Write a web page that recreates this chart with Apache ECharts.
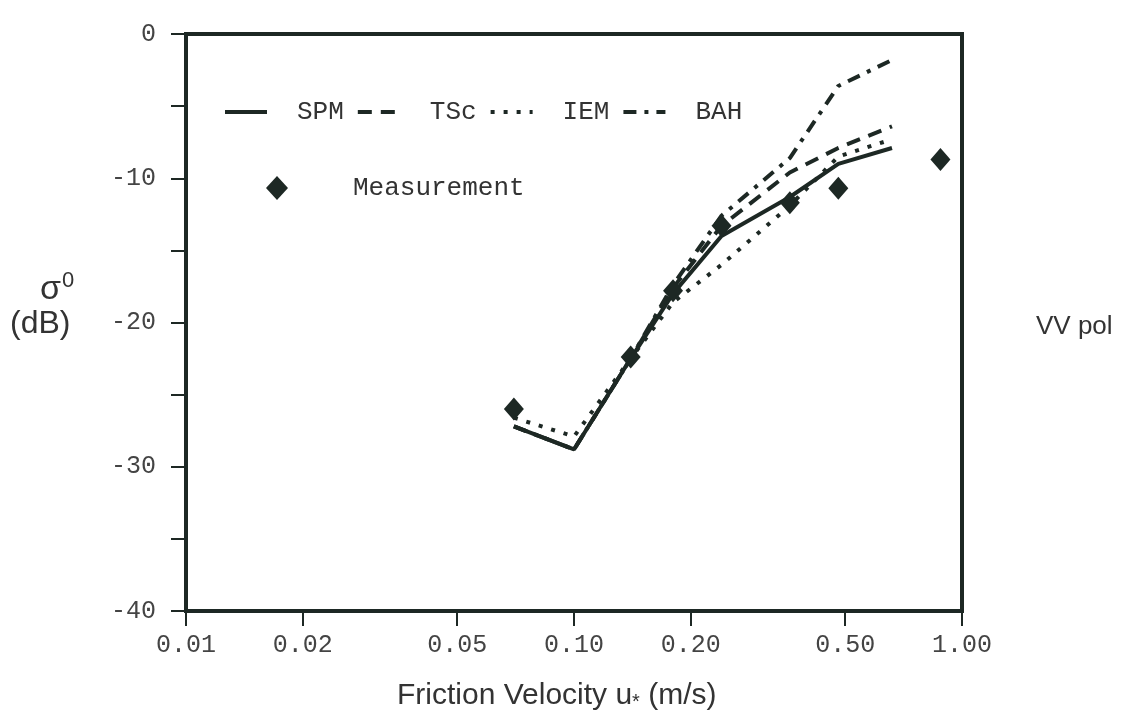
<!DOCTYPE html>
<html>
<head>
<meta charset="utf-8">
<style>
  html, body { margin: 0; padding: 0; background: #ffffff; }
  #chart { width: 1134px; height: 724px; }
</style>
<script src="https://cdn.jsdelivr.net/npm/echarts@6/dist/echarts.min.js"></script>
</head>
<body>
<div id="chart"></div>
<script>
// ---- data ----
const xModel = [0.07, 0.10, 0.14, 0.18, 0.24, 0.36, 0.48, 0.66];
const spm    = [-27.2, -28.8, -22.5, -18.0, -14.0, -11.3, -9.0, -7.9];
const tsc    = [-27.2, -28.8, -22.5, -17.6, -13.3, -9.6, -7.9, -6.4];
const iem    = [-26.6, -27.9, -22.5, -18.6, -16.0, -11.9, -8.5, -7.3];
const bah    = [-27.2, -28.8, -22.5, -17.4, -12.6, -8.6, -3.6, -1.8];
const xMeas  = [0.07, 0.14, 0.18, 0.24, 0.36, 0.48, 0.88];
const meas   = [-26.0, -22.4, -17.8, -13.3, -11.7, -10.7, -8.7];
const xTicks = [0.01, 0.02, 0.05, 0.10, 0.20, 0.50, 1.00];
const yMin = -40, yMax = 0, yStep = 10;

const ink = '#1d2824';
const monoFont = '"Liberation Mono", "DejaVu Sans Mono", monospace';
const sansFont = '"Liberation Sans", Arial, sans-serif';

function pairs(xs, ys) { return xs.map((x, i) => [x, ys[i]]); }

const chart = echarts.init(document.getElementById('chart'), null, { renderer: 'canvas' });

const lineSeries = (name, ys, type) => ({
  name: name,
  type: 'line',
  data: pairs(xModel, ys),
  showSymbol: false,
  symbol: 'none',
  lineStyle: { color: ink, width: 4, type: type },
  itemStyle: { color: ink },
  z: 3
});

chart.setOption({
  animation: false,
  backgroundColor: '#ffffff',
  grid: {
    left: 186, right: 172, top: 34, bottom: 113,
    show: true, borderColor: ink, borderWidth: 4, backgroundColor: 'transparent'
  },
  legend: [
    {
      data: ['SPM', 'TSc', 'IEM', 'BAH'],
      left: 223, top: 99, padding: 0,
      itemWidth: 42, itemHeight: 14, itemGap: 12,
      itemStyle: { opacity: 0 },
      lineStyle: { width: 4, color: ink },
      textStyle: { fontFamily: monoFont, fontSize: 26, color: '#333', padding: [0, 0, 0, 25] },
      selectedMode: false
    },
    {
      data: ['Measurement'],
      left: 266, top: 175, padding: 0,
      itemWidth: 22, itemHeight: 24,
      textStyle: { fontFamily: monoFont, fontSize: 26, color: '#333', padding: [0, 0, 0, 60] },
      selectedMode: false
    }
  ],
  xAxis: {
    type: 'log', logBase: 10, min: 0.01, max: 1,
    axisLine: { show: true, onZero: false, lineStyle: { color: ink, width: 4 } },
    axisTick: { show: true, inside: false, length: 15, lineStyle: { color: ink, width: 2 }, customValues: xTicks },
    axisLabel: {
      customValues: xTicks,
      formatter: v => Number(v).toFixed(2),
      fontFamily: monoFont, fontSize: 25, color: '#444', margin: 22
    },
    splitLine: { show: false },
    minorTick: { show: false }
  },
  yAxis: {
    type: 'value', min: yMin, max: yMax, interval: yStep,
    axisLine: { show: true, onZero: false, lineStyle: { color: ink, width: 4 } },
    axisTick: { show: true, inside: false, length: 15, lineStyle: { color: ink, width: 2 } },
    minorTick: { show: true, splitNumber: 2, length: 15, lineStyle: { color: ink, width: 2 } },
    axisLabel: { fontFamily: monoFont, fontSize: 25, color: '#444', margin: 30 },
    splitLine: { show: false }
  },
  series: [
    lineSeries('SPM', spm, 'solid'),
    lineSeries('TSc', tsc, [14, 9]),
    lineSeries('IEM', iem, [4, 9]),
    lineSeries('BAH', bah, [13, 8, 4, 8]),
    {
      name: 'Measurement',
      type: 'scatter',
      data: pairs(xMeas, meas),
      symbol: 'diamond',
      symbolSize: [20, 23],
      itemStyle: { color: ink, opacity: 1 },
      z: 4
    }
  ],
  graphic: [
    {
      type: 'text', left: 40, top: 270,
      style: {
        text: '{s|σ}{p|0}',
        rich: {
          s: { fontFamily: sansFont, fontSize: 34, fill: '#333' },
          p: { fontFamily: sansFont, fontSize: 22, fill: '#333', verticalAlign: 'top', padding: [0, 0, 18, 1] }
        }
      }
    },
    {
      type: 'text', left: 10, top: 308,
      style: { text: '(dB)', fontFamily: sansFont, fontSize: 32, fill: '#333' }
    },
    {
      type: 'text', left: 1036, top: 314,
      style: { text: 'VV pol', fontFamily: sansFont, fontSize: 26, fill: '#333' }
    },
    {
      type: 'text', left: 397, top: 681,
      style: {
        text: '{a|Friction Velocity u}{b|*}{a| (m/s)}',
        rich: {
          a: { fontFamily: sansFont, fontSize: 30, fill: '#333' },
          b: { fontFamily: sansFont, fontSize: 20, fill: '#333', padding: [12, 0, 0, 0] }
        }
      }
    }
  ]
});
</script>
</body>
</html>
